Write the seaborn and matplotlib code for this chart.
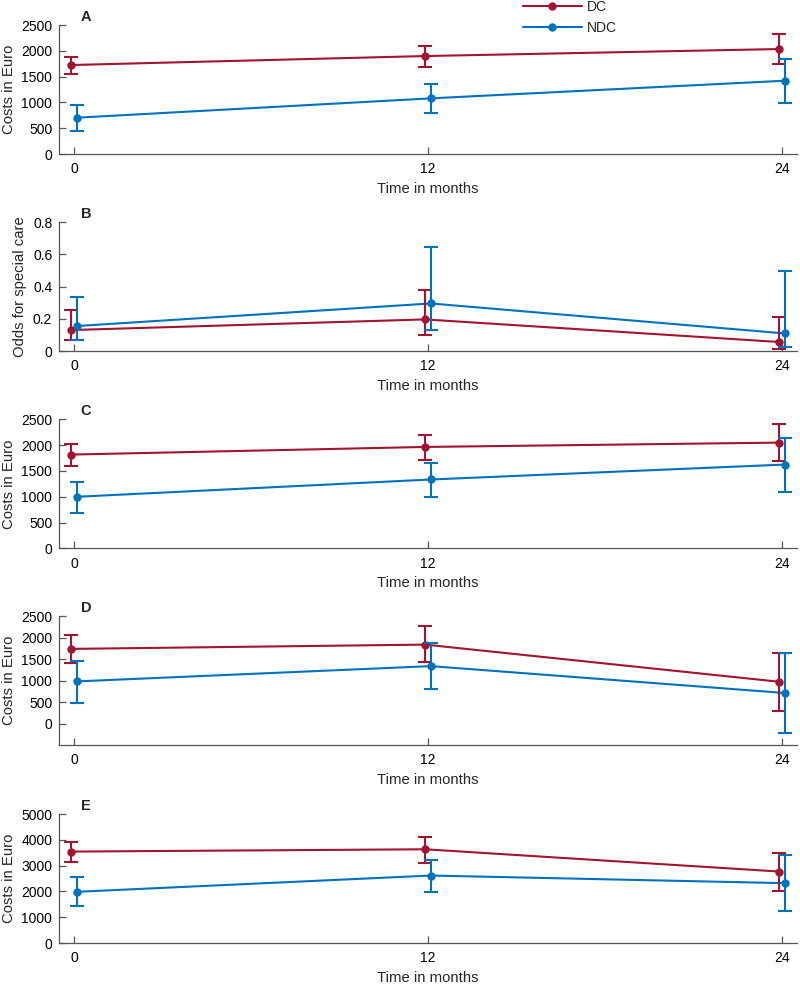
import pandas as pd
import seaborn as sns
import matplotlib.pyplot as plt
from matplotlib.lines import Line2D
from matplotlib.ticker import FuncFormatter

# time points and groups
months = [0, 12, 24]
groups = ['DC', 'NDC']
panels = ['A', 'B', 'C', 'D', 'E']
y_labels = ['Costs in Euro', 'Odds for special care', 'Costs in Euro',
            'Costs in Euro', 'Costs in Euro']

# panel A
a_dc = [1725, 1899, 2035]
a_dc_lo = [1550, 1693, 1738]
a_dc_hi = [1886, 2099, 2326]
a_ndc = [704, 1079, 1421]
a_ndc_lo = [452, 801, 995]
a_ndc_hi = [950, 1357, 1835]

# panel B
b_dc = [0.130, 0.196, 0.056]
b_dc_lo = [0.068, 0.099, 0.014]
b_dc_hi = [0.254, 0.377, 0.208]
b_ndc = [0.155, 0.295, 0.109]
b_ndc_lo = [0.068, 0.130, 0.023]
b_ndc_hi = [0.336, 0.645, 0.497]

# panel C
c_dc = [1817, 1965, 2049]
c_dc_lo = [1604, 1708, 1688]
c_dc_hi = [2017, 2204, 2403]
c_ndc = [999, 1334, 1624]
c_ndc_lo = [689, 992, 1082]
c_ndc_hi = [1289, 1663, 2139]

# panel D
d_dc = [1736, 1836, 972]
d_dc_lo = [1404, 1420, 301]
d_dc_hi = [2060, 2269, 1651]
d_ndc = [980, 1335, 710]
d_ndc_lo = [486, 795, -231]
d_ndc_hi = [1466, 1883, 1651]

# panel E
e_dc = [3544, 3634, 2771]
e_dc_lo = [3131, 3119, 2010]
e_dc_hi = [3930, 4111, 3505]
e_ndc = [1985, 2616, 2320]
e_ndc_lo = [1418, 1985, 1224]
e_ndc_hi = [2552, 3222, 3415]

y_limits = [(0, 2500), (0, 0.8), (0, 2500), (-500, 2500), (0, 5000)]
y_ticks = [[0, 500, 1000, 1500, 2000, 2500],
           [0, 0.2, 0.4, 0.6, 0.8],
           [0, 500, 1000, 1500, 2000, 2500],
           [0, 500, 1000, 1500, 2000, 2500],
           [0, 1000, 2000, 3000, 4000, 5000]]

series = {
    'A': [(a_dc, a_dc_lo, a_dc_hi), (a_ndc, a_ndc_lo, a_ndc_hi)],
    'B': [(b_dc, b_dc_lo, b_dc_hi), (b_ndc, b_ndc_lo, b_ndc_hi)],
    'C': [(c_dc, c_dc_lo, c_dc_hi), (c_ndc, c_ndc_lo, c_ndc_hi)],
    'D': [(d_dc, d_dc_lo, d_dc_hi), (d_ndc, d_ndc_lo, d_ndc_hi)],
    'E': [(e_dc, e_dc_lo, e_dc_hi), (e_ndc, e_ndc_lo, e_ndc_hi)],
}

colors = {'DC': '#A2142F', 'NDC': '#0072BD'}
dodge = {'DC': -0.1, 'NDC': 0.1}

# long table for seaborn
rows = []
for p in panels:
    for g, (mean, lo, hi) in zip(groups, series[p]):
        for m, v, l, h in zip(months, mean, lo, hi):
            rows.append({'panel': p, 'group': g, 'month': m,
                         'x': m + dodge[g], 'value': v, 'lo': l, 'hi': h})
data = pd.DataFrame(rows)

sns.set_style('ticks')
plt.rcParams['font.family'] = ['Liberation Sans', 'DejaVu Sans']

fig = plt.figure(figsize=(8, 9.86), dpi=100)
bottoms = [0.8438, 0.644, 0.4439, 0.2444, 0.0436]
spine_col = '#555555'

for i, p in enumerate(panels):
    ax = fig.add_axes([0.0741, bottoms[i], 0.9218, 0.1308])
    sub = data[data['panel'] == p]
    sns.lineplot(data=sub, x='x', y='value', hue='group', hue_order=groups,
                 palette=colors, marker='o', markersize=6, markeredgewidth=0,
                 linewidth=1.5, legend=False, ax=ax)
    for g in groups:
        s = sub[sub['group'] == g]
        ax.errorbar(s['x'], s['value'],
                    yerr=[s['value'] - s['lo'], s['hi'] - s['value']],
                    fmt='none', ecolor=colors[g], elinewidth=1.5,
                    capsize=5, capthick=1.5)
    ax.set_xlim(-0.5, 24.5)
    ax.set_ylim(*y_limits[i])
    ax.set_xticks(months)
    ax.set_yticks(y_ticks[i])
    ax.yaxis.set_major_formatter(FuncFormatter(lambda v, pos: '%g' % v))
    ax.set_xlabel('Time in months', fontsize=10.7, labelpad=4)
    ax.set_ylabel(y_labels[i], fontsize=10.7, labelpad=4)
    sns.despine(ax=ax)
    for side in ['left', 'bottom']:
        ax.spines[side].set_color(spine_col)
        ax.spines[side].set_linewidth(0.9)
    ax.tick_params(axis='both', direction='in', length=5, width=0.9,
                   color=spine_col, labelsize=10, labelcolor='black')
    ax.tick_params(axis='x', pad=6)
    ax.tick_params(axis='y', pad=5)
    ax.text(0.036, 1.062, p, transform=ax.transAxes, fontsize=10.5,
            fontweight='bold', ha='center', va='center')

handles = [Line2D([0], [0], color=colors[g], lw=1.5, marker='o',
                  markersize=6, markeredgewidth=0) for g in groups]
fig.legend(handles, groups, loc='upper left', bbox_to_anchor=(0.654, 1.0),
           frameon=False, borderpad=0, borderaxespad=0, handlelength=4.2,
           handletextpad=0.35, fontsize=10)

fig.savefig('out.png', dpi=100)
